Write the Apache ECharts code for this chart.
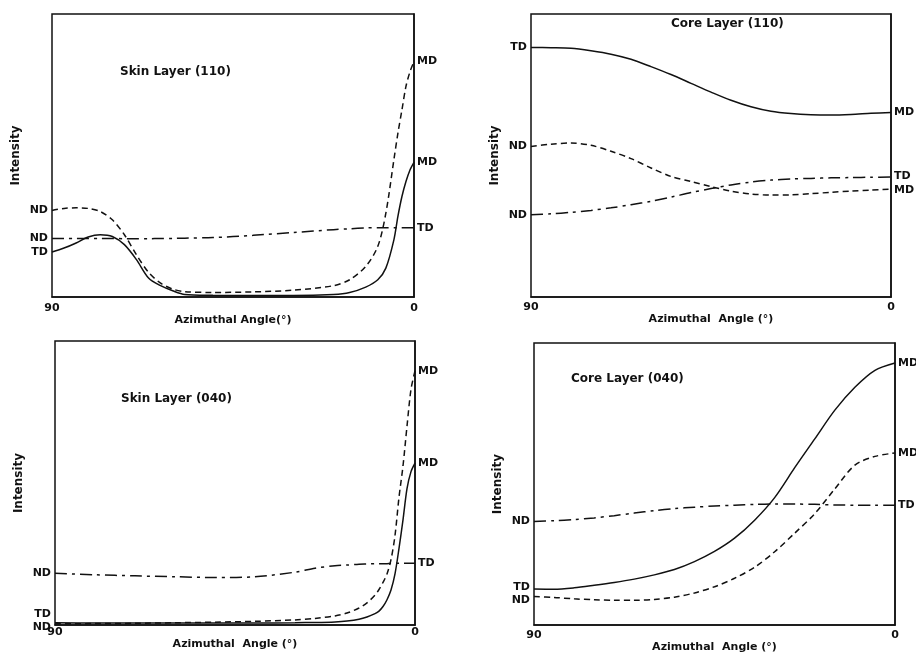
<!DOCTYPE html>
<html>
<head>
<meta charset="utf-8">
<script src="https://cdn.jsdelivr.net/npm/echarts@6/dist/echarts.min.js"></script>
<style>
  html, body { margin: 0; padding: 0; background: #fff; }
  #main { width: 916px; height: 654px; }
</style>
</head>
<body>
<div id="main"></div>
<script>
  // azimuthal angle (deg) sample points, one list per panel
  var skin110Angles = [90, 87, 84, 81, 78, 75, 72, 69, 66, 63, 60, 57, 50, 40, 30, 20, 16, 12, 9, 7, 5, 4, 3, 2, 1, 0];
  var skin110Solid  = [15.9, 17.3, 19.1, 21.2, 22.0, 21.4, 18.5, 13.2, 6.7, 4.0, 2.2, 0.9, 0.6, 0.5, 0.5, 0.9, 1.6, 3.5, 6.1, 10.2, 20.2, 28.5, 35.5, 40.8, 44.9, 47.6];
  var skin110Dashed = [30.6, 31.3, 31.5, 31.3, 30.2, 27.3, 22.0, 14.9, 8.7, 4.9, 2.8, 1.9, 1.6, 1.8, 2.4, 4.0, 6.1, 10.8, 17.9, 29.6, 48.5, 57.9, 66.1, 74.4, 79.6, 83.2];
  var skin110DashDot = [20.7, 20.7, 20.7, 20.7, 20.7, 20.7, 20.6, 20.6, 20.6, 20.7, 20.7, 20.8, 21.0, 21.8, 22.8, 23.8, 24.1, 24.4, 24.5, 24.5, 24.5, 24.5, 24.5, 24.5, 24.5, 24.5];

  var core110Angles = [90, 85, 80, 75, 70, 65, 60, 55, 50, 45, 40, 35, 30, 25, 20, 15, 10, 5, 0];
  var core110Solid  = [88.2, 88.1, 87.9, 87.0, 85.8, 84.0, 81.4, 78.6, 75.5, 72.4, 69.5, 67.2, 65.6, 64.8, 64.4, 64.3, 64.5, 64.9, 65.2];
  var core110Dashed = [53.2, 54.0, 54.4, 53.6, 51.5, 48.9, 45.6, 42.6, 40.8, 39.0, 37.4, 36.4, 36.0, 36.1, 36.5, 37.0, 37.4, 37.8, 38.1];
  var core110DashDot = [29.1, 29.4, 29.9, 30.6, 31.5, 32.6, 33.8, 35.3, 36.9, 38.3, 39.6, 40.6, 41.3, 41.7, 41.9, 42.1, 42.2, 42.3, 42.4];

  var skin040Angles = [90, 80, 70, 60, 50, 40, 30, 25, 20, 17, 14, 12, 10, 9, 8, 7, 6, 5, 4, 3, 2, 1, 0];
  var skin040Solid  = [0.8, 0.7, 0.7, 0.7, 0.7, 0.7, 0.8, 0.9, 1.1, 1.4, 2.0, 2.8, 4.0, 4.9, 6.5, 8.9, 12.3, 18.0, 27.0, 37.0, 48.0, 54.0, 57.0];
  var skin040Dashed = [0.4, 0.5, 0.6, 0.8, 1.0, 1.3, 1.8, 2.3, 3.2, 4.2, 6.0, 7.8, 10.5, 12.5, 15.0, 18.0, 23.0, 31.5, 45.0, 56.0, 70.0, 83.0, 89.5];
  var skin040DashDot = [18.2, 17.7, 17.3, 17.0, 16.7, 17.0, 18.6, 20.0, 20.9, 21.1, 21.4, 21.5, 21.6, 21.6, 21.6, 21.6, 21.7, 21.7, 21.7, 21.7, 21.7, 21.7, 21.7];

  var core040Angles = [90, 85, 80, 75, 70, 65, 60, 55, 50, 45, 40, 35, 30, 25, 20, 15, 10, 5, 0];
  var core040Solid  = [12.8, 12.7, 13.2, 14.1, 15.1, 16.3, 17.8, 19.7, 22.5, 26.1, 30.8, 37.2, 45.2, 55.8, 66.0, 76.2, 84.3, 90.3, 92.9];
  var core040Dashed = [10.1, 9.8, 9.3, 9.0, 8.8, 8.8, 9.1, 9.9, 11.4, 13.6, 16.6, 20.5, 26.0, 32.6, 39.5, 48.3, 56.7, 59.8, 61.0];
  var core040DashDot = [36.7, 37.0, 37.4, 38.0, 38.8, 39.7, 40.6, 41.3, 41.8, 42.2, 42.5, 42.8, 42.9, 42.9, 42.8, 42.6, 42.5, 42.5, 42.5];

  var panelTitles = ['Skin Layer (110)', 'Core Layer (110)', 'Skin Layer (040)', 'Core Layer (040)'];
  var xNames = ['Azimuthal Angle(°)', 'Azimuthal  Angle (°)', 'Azimuthal  Angle (°)', 'Azimuthal  Angle (°)'];

  var FONT = 'DejaVu Sans';
  var INK = '#111';
  var SOLID = 'solid', DASHED = [6, 4], DASHDOT = [12, 5, 3, 5];

  var chart = echarts.init(document.getElementById('main'));

  function pairs(angles, vals) {
    return angles.map(function (a, i) { return [a, vals[i]]; });
  }

  // one curve with its direction labels at both ends
  function curve(idx, angles, vals, type, leftName, rightName, leftOff, rightOff) {
    var last = angles.length - 1;
    return {
      type: 'line',
      xAxisIndex: idx,
      yAxisIndex: idx,
      data: pairs(angles, vals),
      symbol: 'none',
      smooth: 0.3,
      silent: true,
      animation: false,
      lineStyle: { color: INK, width: 1.5, type: type },
      markPoint: {
        symbol: 'circle',
        symbolSize: 0,
        silent: true,
        label: { show: true, color: INK, fontFamily: FONT, fontWeight: 'bold', fontSize: 11 },
        data: [
          { coord: [angles[0], vals[0]], label: { position: 'left', distance: 4, formatter: leftName, offset: leftOff || [0, 0] } },
          { coord: [angles[last], vals[last]], label: { position: 'right', distance: 3, formatter: rightName, offset: rightOff || [0, 0] } }
        ]
      }
    };
  }

  var grids = [
    { left: 52, top: 14, width: 362, height: 283 },
    { left: 531, top: 14, width: 360, height: 283 },
    { left: 55, top: 341, width: 360, height: 284 },
    { left: 534, top: 343, width: 361, height: 286 }
  ];
  var labelMargins = [6, 5, 2, 5];
  var nameGaps = [10, 11, 14, 12];

  var option = {
    backgroundColor: '#fff',
    title: [
      { text: panelTitles[0], left: 120, top: 66 },
      { text: panelTitles[1], left: 671, top: 18 },
      { text: panelTitles[2], left: 121, top: 393 },
      { text: panelTitles[3], left: 571, top: 373 }
    ].map(function (t) {
      t.padding = 0;
      t.textStyle = { color: INK, fontFamily: FONT, fontWeight: 'bold', fontSize: 12 };
      return t;
    }),
    grid: grids.map(function (g) {
      return Object.assign({ show: true, borderColor: INK, borderWidth: 1.5, backgroundColor: 'transparent' }, g);
    }),
    xAxis: grids.map(function (g, i) {
      return {
        gridIndex: i,
        type: 'value',
        min: 0,
        max: 90,
        interval: 90,
        inverse: true,
        name: xNames[i],
        nameLocation: 'middle',
        nameGap: nameGaps[i],
        nameTextStyle: { color: INK, fontFamily: FONT, fontWeight: 'bold', fontSize: 11 },
        axisLine: { show: true, lineStyle: { color: INK, width: 1.5 } },
        axisTick: { show: false },
        splitLine: { show: false },
        axisLabel: { color: INK, fontFamily: FONT, fontWeight: 'bold', fontSize: 11, margin: labelMargins[i] }
      };
    }),
    yAxis: grids.map(function (g, i) {
      return {
        gridIndex: i,
        type: 'value',
        min: 0,
        max: 100,
        name: 'Intensity',
        nameLocation: 'middle',
        nameGap: 30,
        nameRotate: 90,
        nameTextStyle: { color: INK, fontFamily: FONT, fontWeight: 'bold', fontSize: 12 },
        axisLine: { show: true, lineStyle: { color: INK, width: 1.5 } },
        axisTick: { show: false },
        axisLabel: { show: false },
        splitLine: { show: false }
      };
    }),
    series: [
      curve(0, skin110Angles, skin110Solid, SOLID, 'TD', 'MD'),
      curve(0, skin110Angles, skin110Dashed, DASHED, 'ND', 'MD'),
      curve(0, skin110Angles, skin110DashDot, DASHDOT, 'ND', 'TD'),

      curve(1, core110Angles, core110Solid, SOLID, 'TD', 'MD'),
      curve(1, core110Angles, core110Dashed, DASHED, 'ND', 'MD', null, [0, 1]),
      curve(1, core110Angles, core110DashDot, DASHDOT, 'ND', 'TD', null, [0, -1]),

      curve(2, skin040Angles, skin040Solid, SOLID, 'TD', 'MD', [0, -9]),
      curve(2, skin040Angles, skin040Dashed, DASHED, 'ND', 'MD', [0, 3]),
      curve(2, skin040Angles, skin040DashDot, DASHDOT, 'ND', 'TD'),

      curve(3, core040Angles, core040Solid, SOLID, 'TD', 'MD', [0, -2]),
      curve(3, core040Angles, core040Dashed, DASHED, 'ND', 'MD', [0, 4]),
      curve(3, core040Angles, core040DashDot, DASHDOT, 'ND', 'TD')
    ]
  };

  chart.setOption(option);
</script>
</body>
</html>
